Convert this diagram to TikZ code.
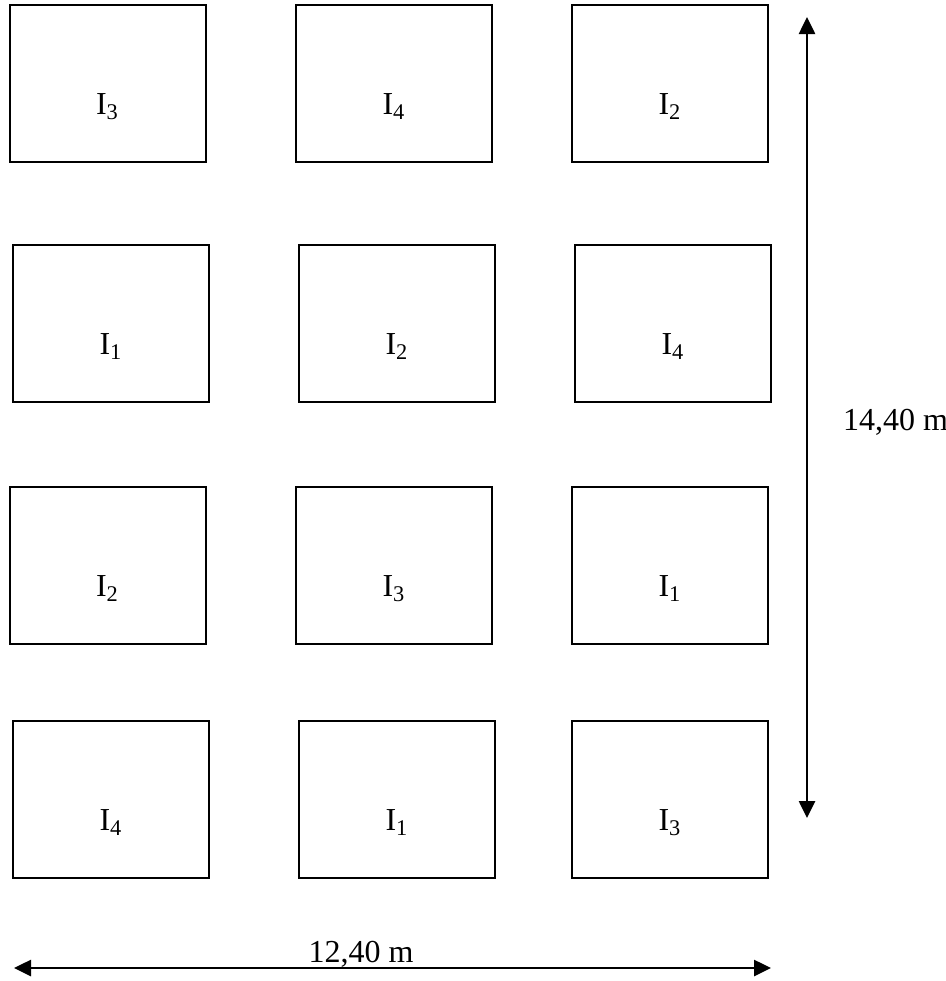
\documentclass[tikz,border=0pt]{standalone}
\usepackage{fontspec}
\setmainfont{Liberation Serif}
\usetikzlibrary{arrows.meta,positioning}

\begin{document}
\begin{tikzpicture}[x=0.5pt,y=-0.5pt,
    plotbox/.style={draw, line width=1pt, inner sep=0pt,
      minimum width=98pt, minimum height=78.5pt},
    tag/.style={anchor=base, font=\fontsize{16}{19}\selectfont},
    dim/.style={line width=1.3pt, {Triangle[length=8.5pt,width=8pt]}-{Triangle[length=8.5pt,width=8pt]}}]
  % Layout positions
  \def\colA{107.5}  % left column
  \def\colB{394}    % middle column
  \def\colC{670}    % right column
  \def\rowA{83}
  \def\rowB{323}
  \def\rowC{565}
  \def\rowD{799.5}
  \def\drop{15.5pt} % label below box centre

  \useasboundingbox (0,0) rectangle (946,981);

  % Row 1
  \node[plotbox] (p11) at (\colA,\rowA) {};
  \node[plotbox] (p12) at (\colB,\rowA) {};
  \node[plotbox] (p13) at (\colC,\rowA) {};
  \node[tag] (t11) at ([yshift=-\drop]p11.center) {I\textsubscript{3}};
  \node[tag] (t12) at ([yshift=-\drop]p12.center) {I\textsubscript{4}};
  \node[tag] (t13) at ([yshift=-\drop]p13.center) {I\textsubscript{2}};

  % Row 2
  \node[plotbox] (p21) at (\colA+3.5,\rowB) {};
  \node[plotbox] (p22) at (\colB+3,\rowB) {};
  \node[plotbox] (p23) at (\colC+3,\rowB) {};
  \node[tag] (t21) at ([yshift=-\drop]p21.center) {I\textsubscript{1}};
  \node[tag] (t22) at ([yshift=-\drop]p22.center) {I\textsubscript{2}};
  \node[tag] (t23) at ([yshift=-\drop]p23.center) {I\textsubscript{4}};

  % Row 3
  \node[plotbox] (p31) at (\colA,\rowC) {};
  \node[plotbox] (p32) at (\colB,\rowC) {};
  \node[plotbox] (p33) at (\colC,\rowC) {};
  \node[tag] (t31) at ([yshift=-\drop]p31.center) {I\textsubscript{2}};
  \node[tag] (t32) at ([yshift=-\drop]p32.center) {I\textsubscript{3}};
  \node[tag] (t33) at ([yshift=-\drop]p33.center) {I\textsubscript{1}};

  % Row 4
  \node[plotbox] (p41) at (\colA+3.5,\rowD) {};
  \node[plotbox] (p42) at (\colB+3,\rowD) {};
  \node[plotbox] (p43) at (\colC,\rowD) {};
  \node[tag] (t41) at ([yshift=-\drop]p41.center) {I\textsubscript{4}};
  \node[tag] (t42) at ([yshift=-\drop]p42.center) {I\textsubscript{1}};
  \node[tag] (t43) at ([yshift=-\drop]p43.center) {I\textsubscript{3}};

  % Dimension arrows
  \coordinate (vtop) at (807,17);
  \coordinate (vbot) at (807,818);
  \coordinate (hleft) at (14,968);
  \coordinate (hright) at (771,968);
  \draw[dim] (vtop) -- (vbot);
  \draw[dim] (hleft) -- (hright);

  % Dimension labels
  \node[tag, anchor=west] (len) at (836,422) {14,40 m};
  \node[tag] (wid) at (361,962) {12,40 m};
\end{tikzpicture}
\end{document}
